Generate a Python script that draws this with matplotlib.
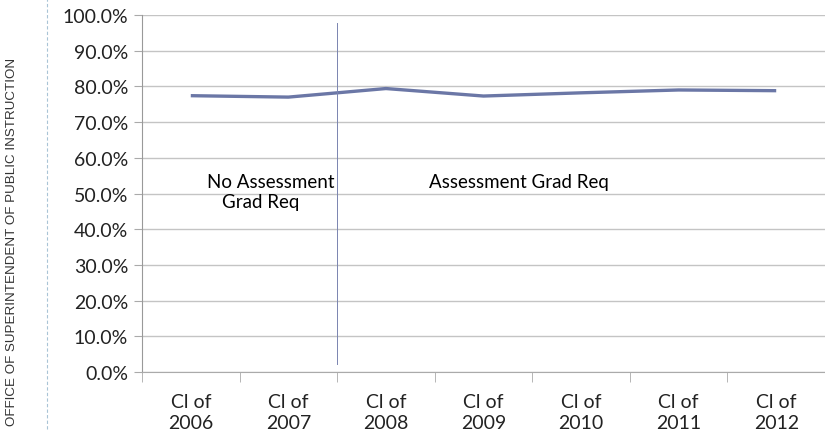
import matplotlib.pyplot as plt
import numpy as np

categories = ["Cl of\n2006", "Cl of\n2007", "Cl of\n2008", "Cl of\n2009",
              "Cl of\n2010", "Cl of\n2011", "Cl of\n2012"]
rates = [77.4, 77.0, 79.4, 77.3, 78.2, 79.0, 78.8]
y_ticks = [0, 10, 20, 30, 40, 50, 60, 70, 80, 90, 100]

plt.rcParams['font.family'] = ['Lato', 'DejaVu Sans']

fig = plt.figure(figsize=(8.25, 4.39), dpi=100)
ax = fig.add_axes([142 / 825, 1 - 373 / 439, 683 / 825, 357 / 439])

x = np.arange(len(categories))
ax.plot(x, rates, color="#6b77a6", lw=2.4, solid_capstyle="butt")

ax.set_xlim(-0.5, len(categories) - 0.5)
ax.set_ylim(0, 100)
ax.set_yticks(y_ticks)
ax.set_yticklabels([f"{v:.1f}%" for v in y_ticks], fontsize=14, color="#222222")
ax.set_xticks(x)
ax.set_xticklabels(categories, fontsize=14, color="#222222", linespacing=1.3)
ax.set_xticks(np.arange(-0.5, len(categories)), minor=True)
ax.tick_params(axis="x", which="major", length=0, pad=15)
ax.tick_params(axis="x", which="minor", length=7, color="#aaaaaa")
ax.tick_params(axis="y", length=6, color="#aaaaaa", pad=4)
ax.grid(axis="y", color="#c4c4c4", lw=1)
ax.set_axisbelow(True)
for s in ["top", "right"]:
    ax.spines[s].set_visible(False)
ax.spines["left"].set_color("#999999")
ax.spines["bottom"].set_color("#aaaaaa")

# divider between periods
ax.plot([1.5, 1.5], [2.2, 97.8], color="#7a84b0", lw=0.7)
ax.text(1.47, 53.3, "No Assessment", fontsize=13.5, ha="right", va="center")
ax.text(0.32, 47.8, "Grad Req", fontsize=13.5, ha="left", va="center")
ax.text(3.36, 53.3, "Assessment Grad Req", fontsize=13.5, ha="center", va="center")

# side banner
fig.text(12 / 825, 1 - 242 / 439, "OFFICE OF SUPERINTENDENT OF PUBLIC INSTRUCTION",
         rotation=90, fontsize=9.6, color="#333333", ha="center", va="center",
         family=["Liberation Sans", "DejaVu Sans"])
fig.add_artist(plt.Line2D([47 / 825, 47 / 825], [1 - 430 / 439, 1.0],
                          color="#a9c4d6", lw=0.8, ls=(0, (3, 2))))

fig.savefig("out.png", dpi=100)
